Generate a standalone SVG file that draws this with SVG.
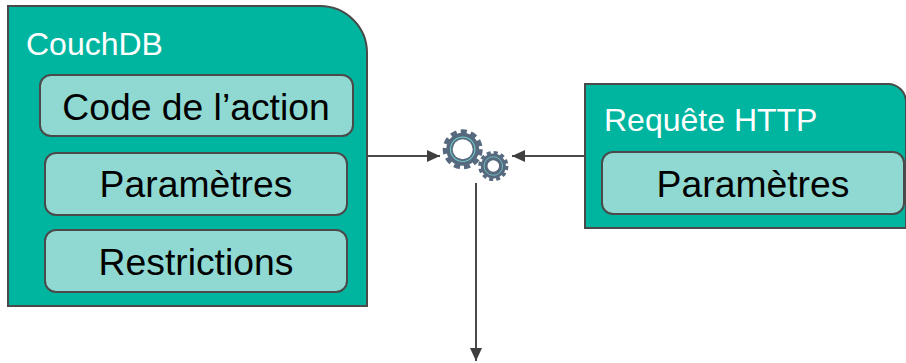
<svg xmlns="http://www.w3.org/2000/svg" width="906" height="363" viewBox="0 0 906 363">
<style>
.outer{fill:#00b5a0;stroke:#4a4a4a;stroke-width:2}
.inner{fill:#8fd9d2;stroke:#4a4a4a;stroke-width:2}
text{font-family:"Liberation Sans",Arial,sans-serif}
.t{font-size:37.3px;fill:#000;text-anchor:middle}
.h{font-size:32px;fill:#fff}
.c{fill:none;stroke:#4a4a4a;stroke-width:2}
.gear{fill:#56697e}
</style>
<defs>
<marker id="a" markerUnits="userSpaceOnUse" markerWidth="14" markerHeight="12" refX="13" refY="6" orient="auto"><path d="M0 0L13 6L0 12z" fill="#3f3f3f"/></marker>
</defs>
<rect width="906" height="363" fill="#fff"/>
<g id="connectors">
<path class="c" marker-end="url(#a)" d="M367 156H440"/>
<path class="c" marker-end="url(#a)" d="M585 156H512"/>
<path class="c" marker-end="url(#a)" d="M476 183V361"/>
</g>
<g id="couchdb">
<path class="outer" d="M8 6H320A47 47 0 0 1 367 53V306H8Z"/>
<text class="h" x="26" y="55">CouchDB</text>
</g>
<g id="code"><rect class="inner" x="40" y="75" width="313" height="61" rx="11"/><text class="t" x="196" y="120">Code de l’action</text></g>
<g id="params1"><rect class="inner" x="45" y="153" width="302" height="62" rx="11"/><text class="t" x="196" y="197">Paramètres</text></g>
<g id="restrictions"><rect class="inner" x="45" y="230" width="302" height="62" rx="11"/><text class="t" x="196" y="275">Restrictions</text></g>
<g id="requete">
<path class="outer" d="M585 84H888A18 18 0 0 1 906 102V228H585Z"/>
<text class="h" x="604" y="131">Requête HTTP</text>
</g>
<g id="params2"><rect class="inner" x="602" y="152" width="302" height="62" rx="11"/><text class="t" x="753" y="197">Paramètres</text></g>
<g id="gears">
<circle class="gear" cx="462.7" cy="149.3" r="16.5"/>
<circle cx="462.7" cy="149.3" r="17.5" fill="none" stroke="#56697e" stroke-width="5" stroke-dasharray="6 4"/>
<circle class="gear" cx="462.7" cy="149.3" r="12.2" stroke="#6fc5c2" stroke-width="1.2"/>
<circle cx="462.7" cy="149.3" r="10" fill="#fff"/>
<circle class="gear" cx="493.3" cy="166" r="12.5"/>
<circle cx="493.3" cy="166" r="13.5" fill="none" stroke="#56697e" stroke-width="3.2" stroke-dasharray="4 3.07"/>
<circle class="gear" cx="493.3" cy="166" r="9.3" stroke="#6fc5c2" stroke-width="0.9"/>
<circle cx="493.3" cy="166" r="5.8" fill="#fff"/>
</g>
</svg>
